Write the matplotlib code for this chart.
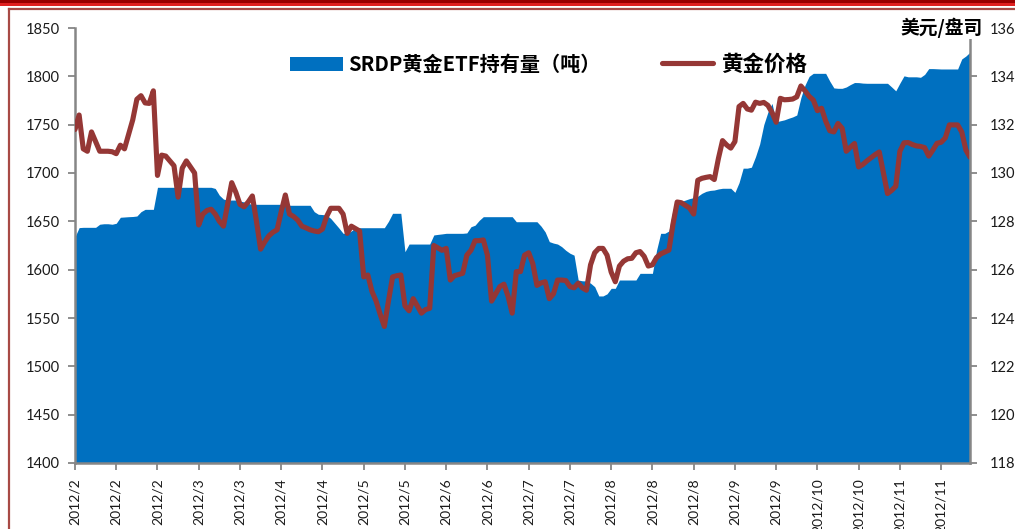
import matplotlib
matplotlib.use("Agg")
import matplotlib.pyplot as plt
from matplotlib.patches import Rectangle
from matplotlib.lines import Line2D

# ---------------- data ----------------
etf_holdings = [
    1634, 1643.5, 1643.8, 1643.8, 1643.8, 1643.8, 1647, 1647.5, 1647.5, 1647,
    1648, 1654.2, 1654.5, 1654.8, 1655, 1655.5, 1660, 1662.4, 1662.4, 1662.4,
    1685.2, 1685.2, 1685.2, 1685.2, 1685.2, 1685.2, 1685.2, 1685.2, 1685.2, 1685.2,
    1685.2, 1685.2, 1685.2, 1685.2, 1684, 1677, 1673, 1672, 1672, 1672,
    1671, 1670, 1668.5, 1667.6, 1667.6, 1667.6, 1667.6, 1667.6, 1667.6, 1667.6,
    1667.6, 1666.5, 1666.6, 1666.6, 1666.6, 1666.6, 1666.6, 1666.6, 1660, 1657.3,
    1657, 1656.5, 1653, 1648, 1643, 1637.6, 1637.6, 1640, 1643.4, 1643.4,
    1643.4, 1643.4, 1643.4, 1643.4, 1643.4, 1643.4, 1650, 1658.3, 1658.3, 1658.3,
    1618.6, 1626.5, 1626.5, 1626.5, 1626.5, 1626.5, 1626.5, 1635.9, 1636.5, 1637,
    1637.6, 1637.6, 1637.6, 1637.6, 1637.6, 1638, 1644.4, 1646, 1651, 1654.8,
    1654.8, 1654.8, 1654.8, 1654.8, 1654.8, 1654.8, 1654.8, 1649.6, 1649.6, 1649.6,
    1649.6, 1649.6, 1649.6, 1645, 1639, 1629, 1627.5, 1626.5, 1623.8, 1620,
    1617, 1615, 1589.3, 1588.5, 1588.3, 1586, 1582.4, 1572.8, 1572.8, 1575,
    1580.7, 1580.7, 1589.3, 1589.3, 1589.3, 1589.3, 1589.3, 1596.2, 1596.2, 1596.2,
    1596.2, 1620, 1637.6, 1637.6, 1640, 1662, 1670, 1670.5, 1672, 1673.5,
    1674.5, 1676, 1679, 1681, 1682, 1682.4, 1683.5, 1684.2, 1684.2, 1684.2,
    1680, 1690, 1705, 1705, 1706, 1716.9, 1730, 1750, 1763, 1772,
    1753, 1754, 1755, 1756.6, 1758, 1760, 1778, 1791, 1800, 1803.1,
    1803.1, 1803.1, 1803.1, 1795, 1788, 1787.6, 1787.6, 1789, 1791.5, 1793.6,
    1793.5, 1793, 1792.8, 1792.8, 1792.8, 1792.8, 1792.8, 1792.8, 1789, 1785,
    1793, 1800.5, 1799.5, 1799.5, 1799.5, 1799, 1802, 1808, 1808, 1807.8,
    1807.6, 1807.6, 1807.6, 1807.6, 1807.6, 1818, 1821, 1825,
]

gold_price = [
    1318, 1324, 1310, 1309, 1317, 1313, 1309, 1309, 1309, 1308.8,
    1308, 1311.5, 1310, 1316, 1322, 1330.5, 1332, 1329, 1328.8, 1334,
    1299, 1307.4, 1307, 1305, 1303, 1290, 1302, 1305, 1302.5, 1300,
    1278.5, 1283, 1284.5, 1285, 1283, 1280, 1278, 1287, 1296, 1292,
    1287, 1286, 1288, 1290.5, 1280, 1268.5, 1271.5, 1274, 1275.5, 1276.5,
    1284, 1290.9, 1283, 1282, 1280.5, 1278, 1277.3, 1276.5, 1276, 1275.7,
    1276.8, 1282, 1285.4, 1285.4, 1285.4, 1283, 1275, 1278, 1277, 1276,
    1257, 1257.8, 1251, 1247, 1241.5, 1236.5, 1247, 1257, 1257.5, 1257.8,
    1245, 1243, 1248, 1245, 1242, 1243.5, 1244, 1270, 1269, 1268,
    1268.8, 1255.7, 1257.5, 1258, 1258.5, 1266, 1268, 1272, 1272, 1272.3,
    1266, 1247, 1250, 1253, 1254, 1249, 1242, 1259.2, 1259.2, 1266,
    1267, 1262.5, 1253.5, 1254.5, 1255, 1248, 1250, 1255.7, 1255.7, 1255.5,
    1253, 1252.5, 1254.4, 1252.5, 1251.5, 1262, 1267, 1268.8, 1268.8, 1266,
    1259, 1255, 1261.5, 1263.5, 1264.5, 1264.7, 1267, 1267.5, 1265.5, 1261.5,
    1262, 1265, 1266.5, 1267.3, 1268.1, 1279, 1288, 1287.7, 1286.6, 1285.5,
    1283, 1297, 1297.8, 1298.2, 1298.5, 1297.3, 1306, 1313.4, 1311.6, 1310.3,
    1313, 1327.5, 1328.8, 1326.5, 1326, 1329.3, 1328.8, 1329.2, 1328, 1325,
    1321, 1330.9, 1330.3, 1330.4, 1330.6, 1331.5, 1336, 1334, 1331.7, 1330.2,
    1325.8, 1326.8, 1321.5, 1317.5, 1317, 1320.5, 1318.5, 1309, 1310.7, 1312.2,
    1302.5, 1303.5, 1305, 1306.3, 1307.6, 1308.7, 1300, 1291.5, 1292.8, 1294.5,
    1309, 1312.5, 1312.6, 1311.8, 1311.2, 1311, 1310.5, 1307, 1309.5, 1312.3,
    1312.7, 1314.5, 1319.9, 1319.9, 1319.9, 1317, 1309.5, 1306.5,
]

tick_labels = ["2012/2", "2012/2", "2012/2", "2012/3", "2012/3", "2012/4",
               "2012/4", "2012/5", "2012/5", "2012/6", "2012/6", "2012/7",
               "2012/7", "2012/8", "2012/8", "2012/8", "2012/9", "2012/9",
               "2012/10", "2012/10", "2012/11", "2012/11"]
left_ticks = [1400, 1450, 1500, 1550, 1600, 1650, 1700, 1750, 1800, 1850]
right_ticks = [1180, 1200, 1220, 1240, 1260, 1280, 1300, 1320, 1340, 1360]

series_area = "SRDP黄金ETF持有量（吨）"
series_line = "黄金价格"
unit_label = "美元/盘司"

# ---------------- styling ----------------
W, H = 1015, 529
BLUE = "#0070C0"
RED = "#953735"
GRAY = "#868686"
CJK = ["Noto Sans CJK SC", "DejaVu Sans"]
NUM = ["Lato", "DejaVu Sans"]

def fx(px):
    return px / W

def fy(py):
    return 1 - py / H

fig = plt.figure(figsize=(W / 100, H / 100), dpi=100)
fig.patch.set_facecolor("white")

# top decorative bands and frame
fig.patches.append(Rectangle((0, fy(3.3)), 1, 3.3 / H, transform=fig.transFigure,
                             facecolor="#990000", edgecolor="none"))
fig.patches.append(Rectangle((0, fy(5.8)), 1, 2.5 / H, transform=fig.transFigure,
                             facecolor="#E02020", edgecolor="none"))
fig.lines.append(Line2D([fx(8.5), 1.01], [fy(9.2), fy(9.2)], transform=fig.transFigure,
                        color="#A84A45", lw=1.6))
fig.lines.append(Line2D([fx(8.5), fx(8.5)], [fy(9.2), -0.01], transform=fig.transFigure,
                        color="#A84A45", lw=1.6))

x0, x1, y0, y1 = 75, 970, 28, 463
ax = fig.add_axes([fx(x0), fy(y1), fx(x1) - fx(x0), fy(y0) - fy(y1)])
ax2 = ax.twinx()

xs = list(range(len(etf_holdings)))
ax.fill_between(xs, 1400, etf_holdings, color=BLUE, lw=0, zorder=2)
ax2.plot(xs, gold_price, color=RED, lw=3.7, solid_joinstyle="round",
         solid_capstyle="round", zorder=3)

ax.set_xlim(0, len(xs) - 1)
ax.set_ylim(1400, 1850)
ax2.set_ylim(1180, 1360)

ax.set_yticks(left_ticks)
ax2.set_yticks(right_ticks)
tick_pos = list(range(0, 10 * len(tick_labels), 10))
ax.set_xticks(tick_pos)
ax.set_xticklabels(tick_labels, rotation=90, va="top", ha="center",
                   family=NUM, fontsize=10)

for a in (ax, ax2):
    a.set_facecolor("none")
    for s in a.spines.values():
        s.set_visible(False)
ax.spines["left"].set_visible(True)
ax.spines["bottom"].set_visible(True)
ax2.spines["right"].set_visible(True)
for s in (ax.spines["left"], ax.spines["bottom"], ax2.spines["right"]):
    s.set_color(GRAY)
    s.set_linewidth(1.8)
    s.set_zorder(5)

ax.tick_params(axis="y", direction="out", length=5, width=1.3, color=GRAY,
               pad=6, labelsize=10.5)
ax.tick_params(axis="x", direction="out", length=5, width=1.3, color=GRAY,
               pad=6)
ax2.tick_params(axis="y", direction="out", length=5, width=1.3, color=GRAY,
                pad=9, labelsize=10.5)
for lab in ax.get_yticklabels() + ax2.get_yticklabels():
    lab.set_family(NUM)
    lab.set_color("#1a1a1a")
for lab in ax.get_xticklabels():
    lab.set_color("#1a1a1a")

# legend (manual, as in the reference)
fig.patches.append(Rectangle((fx(290), fy(71)), fx(343) - fx(290), (71 - 57) / H,
                             transform=fig.transFigure, facecolor=BLUE,
                             edgecolor="none"))
fig.text(fx(348), fy(64), series_area, family=CJK, fontsize=14.5,
         fontweight="bold", va="center", ha="left", color="black")
fig.lines.append(Line2D([fx(662), fx(713)], [fy(63), fy(63)], transform=fig.transFigure,
                        color=RED, lw=3.7, solid_capstyle="round"))
fig.text(fx(721), fy(64), series_line, family=CJK, fontsize=15.5,
         fontweight="bold", va="center", ha="left", color="black")

# unit label for right axis
fig.text(fx(983), fy(28), unit_label, family=CJK, fontsize=13.5,
         fontweight="bold", va="center", ha="right", color="black", zorder=10,
         bbox=dict(facecolor="white", edgecolor="none", pad=0.5))

fig.savefig("out.png", dpi=100, facecolor="white")
